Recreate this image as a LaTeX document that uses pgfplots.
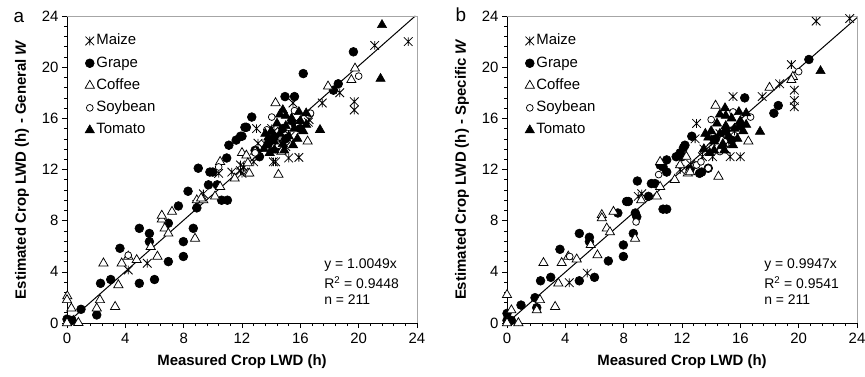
\documentclass[border=0pt]{standalone}
\usepackage{pgfplots}
\pgfplotsset{compat=1.18}
\usepackage{fontspec}
\setmainfont{Liberation Sans}

\pgfdeclareplotmark{xstar}{%
 \pgfpathmoveto{\pgfqpoint{-\pgfplotmarksize}{-\pgfplotmarksize}}%
 \pgfpathlineto{\pgfqpoint{\pgfplotmarksize}{\pgfplotmarksize}}%
 \pgfpathmoveto{\pgfqpoint{-\pgfplotmarksize}{\pgfplotmarksize}}%
 \pgfpathlineto{\pgfqpoint{\pgfplotmarksize}{-\pgfplotmarksize}}%
 \pgfpathmoveto{\pgfqpoint{0pt}{-\pgfplotmarksize}}%
 \pgfpathlineto{\pgfqpoint{0pt}{\pgfplotmarksize}}%
 \pgfusepathqstroke}

\pgfplotsset{
 lwd/.style={
  scale only axis, width=350bp, height=307bp,
  xmin=0,xmax=24,ymin=0,ymax=24,
  xtick={0,4,...,24}, ytick={0,4,...,24},
  minor tick num=4,
  axis x line*=bottom, axis y line*=left,
  tick align=outside,
  major tick length=5bp, minor tick length=3bp,
  tick style={black, line width=0.6pt},
  axis line style={black, line width=0.8pt},
  /pgf/number format/assume math mode=true,
  ticklabel style={font=\fontsize{15}{17}\selectfont},
  xticklabel style={yshift=-2bp},
  xlabel={Measured Crop LWD (h)},
  every axis x label/.style={at={(rel axis cs:0.5,0)}, yshift=-39bp, anchor=center, font=\bfseries\fontsize{15}{17}\selectfont},
  every axis y label/.style={at={(rel axis cs:0,0.5)}, xshift=-45bp, rotate=90, anchor=center, font=\bfseries\fontsize{15}{17}\selectfont},
  legend style={at={(rel axis cs:0,1)}, anchor=north west, xshift=18bp, yshift=-16bp, draw=none, fill=none, inner sep=0pt,
    font=\fontsize{15}{17}\selectfont, row sep=4.8bp, nodes={inner sep=2bp, text height=10.5bp, text depth=3bp}},
  legend cell align=left,
  legend image code/.code={\draw[mark repeat=2,mark phase=2] plot coordinates {(0bp,0bp) (5bp,0bp) (10bp,0bp)};},
  clip=false,
  maize/.style={only marks, mark=xstar, mark size=4.3bp, black, mark options={line width=0.8pt}},
  grape/.style={only marks, mark=*, mark size=4.4bp, black, mark options={fill=black, line width=0.6pt}},
  coffee/.style={only marks, mark=triangle*, mark size=5.3bp, black, mark options={fill=white, line width=0.75pt}},
  soy/.style={only marks, mark=*, mark size=3.4bp, black, mark options={fill=white, line width=0.75pt}},
  tomato/.style={only marks, mark=triangle*, mark size=5.3bp, black, mark options={fill=black, line width=0.6pt}},
 }
}

\begin{document}
\begin{tikzpicture}
\path[use as bounding box] (-67bp,-54bp) rectangle (798bp,323bp);

%================ panel a
\begin{axis}[lwd, at={(0bp,0bp)}, ylabel={Estimated Crop LWD (h) - General \textit{W}}]
\addplot[maize] coordinates {
(4.2,4.14) (5.5,4.67) (8.9,9.25) (9.35,10.1) (10.4,11.7) (11.3,11.8) (11.9,12.35) (11.9,11.9)
(13.0,15.2) (14.3,12.6) (15.2,12.9) (15.9,12.95) (15.5,17.2) (16.6,15.9) (17.5,17.2) (18.7,18.0)
(19.7,17.3) (19.7,16.65) (21.1,21.7) (23.4,22.0) (13.6,14.0) (14.0,13.6) (14.6,14.2) (15.0,13.8)
(15.3,14.6) (14.2,15.0) (13.2,13.3) (12.8,12.6) (12.1,12.2) (12.0,11.7) (14.15,12.6) (15.5,14.05)
(13.1,14.05) (14.04,15.2) (16.55,15.7) (0.2,0.3)
};
\addlegendentry{Maize}
\addplot[grape] coordinates {
(0,0.3) (0.35,0.2) (0.96,1.07) (2.04,0.63) (2.3,3.1) (3.0,3.4) (3.63,5.84) (4.96,3.1) (6.0,3.4)
(4.96,7.4) (5.65,7.0) (5.65,6.36) (6.95,4.8) (6.95,7.8) (7.64,9.15) (7.98,6.36) (7.98,5.2) (8.66,7.4)
(8.9,9.0) (8.3,10.3) (9.0,12.1) (9.8,11.8) (10.0,11.8) (9.7,10.8) (10.3,10.8) (10.6,9.6) (11.0,9.6)
(10.95,12.9) (11.1,13.9) (11.6,14.3) (11.9,14.6) (12.3,15.3) (12.67,16.1) (12.9,13.5) (13.2,13.0)
(14.95,17.7) (15.6,17.7) (16.2,19.5) (18.27,18.2) (18.6,18.7) (19.64,21.2) (14.2,14.5) (14.8,15.2)
(15.4,15.6) (13.8,14.0) (15.0,14.4) (16.0,15.2) (14.5,13.8) (12.2,15.3) (12.0,14.6)
};
\addlegendentry{Grape}
\addplot[coffee] coordinates {
(0,0) (0.78,0.02) (0.3,1.15) (0.02,2.1) (0.0,1.8) (2.04,1.15) (2.26,1.8) (3.3,1.27) (3.52,2.97)
(2.5,4.67) (3.75,4.67) (4.2,5.2) (4.78,4.93) (5.74,5.96) (6.2,5.2) (6.7,7.4) (6.95,7.0) (6.5,8.1)
(6.5,8.4) (7.2,8.7) (8.78,6.6) (8.9,9.6) (9.35,9.6) (9.2,9.75) (10.15,9.9) (10.5,10.65) (10.5,12.6)
(11.5,11.3) (12.0,13.3) (12.3,13.1) (12.4,11.7) (12.4,12.5) (12.9,13.4) (12.5,11.7) (14.3,17.2)
(14.7,13.4) (14.5,11.6) (16.5,14.2) (17.9,18.5) (19.5,19.0) (19.75,19.9)
};
\addlegendentry{Coffee}
\addplot[soy] coordinates {
(4.2,5.3) (10.4,12.2) (14.04,16.1) (15.6,16.6) (16.7,16.4) (20.0,19.3) (13.7,15.1) (14.5,13.9)
(12.9,13.3) (15.2,15.3)
};
\addlegendentry{Soybean}
\addplot[tomato] coordinates {
(14.8,16.65) (16.4,16.4) (17.35,15.1) (21.5,19.1) (21.6,23.3)
(13.5,13.6) (13.8,14.5) (14.0,15.0) (14.2,14.2) (14.4,15.6) (14.6,14.8) (14.8,14.0) (15.0,15.4)
(15.2,14.6) (15.4,16.0) (15.6,15.2) (15.8,14.4) (16.0,15.8) (16.2,15.0) (14.2,13.5) (13.9,13.3)
(15.0,16.2) (15.5,13.9) (16.4,15.5) (14.6,16.3) (13.6,14.8) (15.9,16.5) (14.9,13.5)
};
\addlegendentry{Tomato}
\addplot[black, line width=1pt, forget plot] coordinates {(0,0) (23.88,24)};
\draw[gray!70, line width=0.8pt] (rel axis cs:0,1) -- (rel axis cs:1,1) -- (rel axis cs:1,0);
\node[anchor=west, font=\fontsize{14}{16}\selectfont] at (axis cs:17.4,4.53) {y = 1.0049x};
\node[anchor=west, font=\fontsize{14}{16}\selectfont] at (axis cs:17.4,3.13) {R\textsuperscript{2} = 0.9448};
\node[anchor=west, font=\fontsize{14}{16}\selectfont] at (axis cs:17.4,1.80) {n = 211};
\node[font=\fontsize{19}{21}\selectfont] at (rel axis cs:0,1) [xshift=-48bp, yshift=-1bp] {a};
\end{axis}

%================ panel b
\begin{axis}[lwd, at={(440bp,0bp)}, ylabel={Estimated Crop LWD (h) - Specific \textit{W}}]
\addplot[maize] coordinates {
(4.27,3.15) (5.5,3.9) (9.24,10.1) (9.0,9.9) (11.87,12.0) (13.0,15.6) (15.3,13.0) (16.0,13.0)
(15.5,17.7) (17.5,17.7) (18.7,18.7) (19.5,20.2) (19.7,18.2) (19.7,17.4) (19.7,16.9) (21.2,23.6)
(23.5,23.8) (14.0,14.2) (14.6,14.8) (15.2,14.2) (13.5,13.6) (15.6,15.0) (12.6,12.4) (14.1,13.0)
(12.9,14.4) (13.4,13.0) (15.0,13.6)
};
\addlegendentry{Maize}
\addplot[grape] coordinates {
(0,0.2) (0.3,0.2) (0,0.75) (0.96,1.4) (2.04,1.2) (1.92,1.98) (2.3,3.3) (3.0,3.57) (3.63,5.76)
(4.96,3.3) (6.0,3.57) (4.96,7.0) (5.65,6.7) (5.65,6.36) (6.95,4.85) (7.98,6.1) (7.98,5.2) (7.6,8.6)
(8.2,9.5) (8.66,7.0) (8.8,8.6) (8.9,8.3) (8.32,9.5) (8.94,11.1) (9.7,9.9) (9.9,10.9) (10.15,10.9)
(10.7,8.9) (10.95,8.9) (10.95,12.75) (10.7,12.2) (10.95,11.8) (10.5,12.35) (11.6,13.0) (11.87,13.3)
(12.0,13.0) (12.1,13.7) (12.2,13.9) (12.67,14.6) (12.55,12.0) (13.35,11.8) (13.2,11.7) (13.8,12.1)
(16.3,17.6) (18.3,16.4) (18.6,17.0) (20.7,20.6) (14.3,14.4) (15.0,15.0) (15.4,14.3) (14.7,13.6)
(16.0,15.4)
};
\addlegendentry{Grape}
\addplot[coffee] coordinates {
(0,0) (0.78,0) (0.3,1.0) (0,2.2) (2.04,1.0) (2.26,1.8) (3.3,1.27) (3.52,3.1) (2.5,4.7) (3.75,4.7)
(4.2,5.2) (4.78,4.98) (5.74,6.1) (6.2,5.3) (6.84,7.4) (7.06,7.1) (6.5,8.45) (6.5,8.2) (7.3,8.7)
(8.78,6.6) (9.2,9.6) (10.27,9.9) (10.5,10.65) (10.5,12.6) (11.5,11.2) (11.87,12.35) (12.4,11.7)
(12.3,13.0) (12.55,11.8) (14.5,11.45) (16.55,14.2) (14.3,17.0) (18.0,18.4) (19.6,19.25) (19.5,19.0)
};
\addlegendentry{Coffee}
\addplot[soy] coordinates {
(4.3,5.2) (8.85,7.9) (10.4,11.6) (12.9,12.35) (13.0,12.35) (13.8,12.1) (14.0,15.9) (13.8,14.6)
(14.6,13.4) (16.7,16.1) (15.5,16.5) (20.0,19.65) (13.3,12.6)
};
\addlegendentry{Soybean}
\addplot[tomato] coordinates {
(14.95,16.8) (16.4,16.4) (17.35,14.96) (21.5,19.7)
(13.5,13.6) (13.8,14.5) (14.0,15.0) (14.2,14.2) (14.4,15.6) (14.6,14.8) (14.8,14.0) (15.0,15.4)
(15.2,14.6) (15.4,16.0) (15.6,15.2) (15.8,14.4) (16.0,15.8) (16.2,15.0) (14.2,13.5) (13.9,13.3)
(15.0,16.2) (15.5,13.9) (16.4,15.5) (14.6,16.3) (13.6,14.8) (15.9,16.5) (14.9,13.5)
};
\addlegendentry{Tomato}
\addplot[black, line width=1pt, forget plot] coordinates {(0,0) (24,23.87)};
\draw[gray!70, line width=0.8pt] (rel axis cs:0,1) -- (rel axis cs:1,1) -- (rel axis cs:1,0);
\node[anchor=west, font=\fontsize{14}{16}\selectfont] at (axis cs:17.4,4.53) {y = 0.9947x};
\node[anchor=west, font=\fontsize{14}{16}\selectfont] at (axis cs:17.4,3.13) {R\textsuperscript{2} = 0.9541};
\node[anchor=west, font=\fontsize{14}{16}\selectfont] at (axis cs:17.4,1.80) {n = 211};
\node[font=\fontsize{19}{21}\selectfont] at (rel axis cs:0,1) [xshift=-46bp, yshift=1bp] {b};
\end{axis}
\end{tikzpicture}
\end{document}
